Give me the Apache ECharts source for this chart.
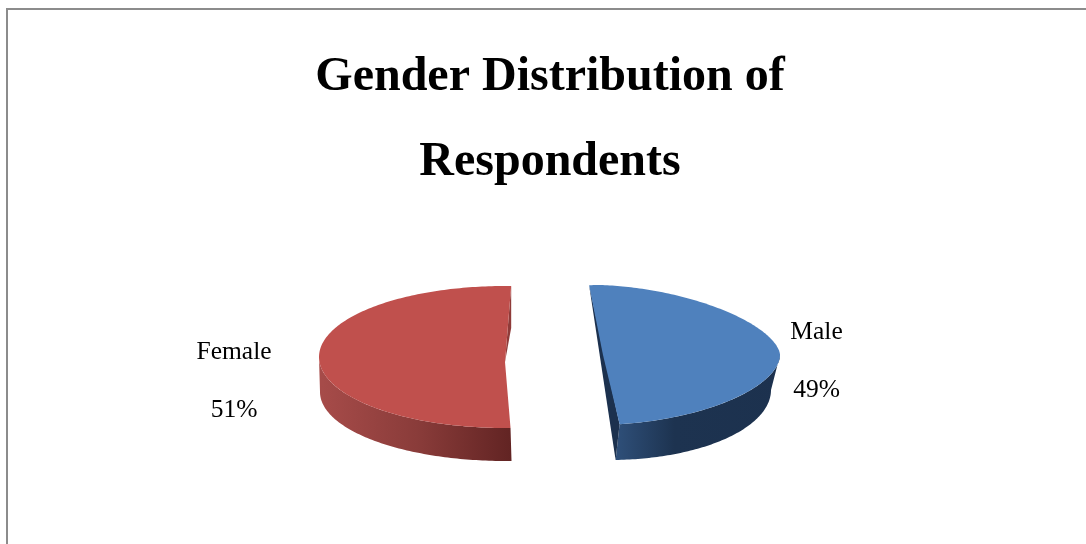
<!DOCTYPE html>
<html><head><meta charset="utf-8">
<style>html,body{margin:0;padding:0;background:#fff}#c{width:1086px;height:544px}</style>
<script src="https://cdn.jsdelivr.net/npm/echarts@6/dist/echarts.min.js"></script>
</head><body><div id="c"></div>
<script>
var categories = ['Male', 'Female'];
var shares = [49, 51];
var chartTitle = 'Gender Distribution of\nRespondents';

var looks = [
  {start:-4.4, face:'#4F81BD', side:'#1C314E', sideStops:[[0,'#2F507A'],[0.35,'#1D3350'],[1,'#1C314E']],
   top:{cx:598,cy:355,rx:182,ry:70,upper:1.7,lower:1.85}, bottom:{cx:610,cy:390,rx:161,ry:70}, bottomEnd:178,
   hub:[603,355], grad:[615,785], label:[816.5,332,390]},
  {start:178.3, face:'#C0504D', side:'#622423', sideStops:[[0,'#A64B49'],[0.5,'#8A3C3A'],[1,'#622423']],
   top:{cx:505,cy:357,rx:186,ry:71}, bottom:{cx:506,cy:392,rx:186,ry:69},
   hub:[505,362], grad:[322,511], label:[234,352,410], sliver:true}
];

function pt(e, a) {
  var r = a * Math.PI / 180, s = Math.sin(r), c = Math.cos(r);
  var p = c > 0 ? (e.upper || 2) : (e.lower || 2);
  var sx = Math.pow(Math.abs(s), 2 / p) * (s < 0 ? -1 : 1);
  var sy = Math.pow(Math.abs(c), 2 / p) * (c < 0 ? -1 : 1);
  return [e.cx + e.rx * sx, e.cy - e.ry * sy];
}
function arc(e, a0, a1) {
  var out = [], n = Math.ceil(Math.abs(a1 - a0));
  for (var i = 0; i <= n; i++) out.push(pt(e, a0 + (a1 - a0) * i / n));
  return out;
}

var total = shares.reduce(function (s, v) { return s + v; }, 0);
var chart = echarts.init(document.getElementById('c'), null, {renderer: 'canvas'});

chart.setOption({
  animation: false,
  backgroundColor: '#fff',
  title: {
    text: chartTitle, left: 545, top: 30, textAlign: 'center',
    textStyle: {fontFamily: 'Liberation Serif', fontWeight: 'bold', fontSize: 48, lineHeight: 85, color: '#000'}
  },
  graphic: [
    {type: 'rect', shape: {x: 6, y: 8, width: 1080, height: 2}, style: {fill: '#8C8C8C'}, silent: true},
    {type: 'rect', shape: {x: 6, y: 8, width: 2, height: 536}, style: {fill: '#8C8C8C'}, silent: true}
  ],
  series: [{
    type: 'custom',
    coordinateSystem: 'none',
    data: categories.map(function (n, i) { return {name: n, value: [shares[i], i]}; }),
    renderItem: function (params, api) {
      var v = api.value(0), i = api.value(1), k = looks[i];
      var sweep = v / total * 360;
      var a0 = k.start, a1 = k.start + sweep;
      var face = arc(k.top, a0, a1);
      var kids = [];
      var w0 = Math.max(a0, 90), w1 = Math.min(a1, 270);
      var b1 = k.bottomEnd || w1;
      var bw0 = i === 1 ? k.start : w0;
      var wall = arc(k.top, w0, w1).concat(arc(k.bottom, b1, bw0));
      kids.push({type: 'polygon', shape: {points: wall}, style: {
        fill: new echarts.graphic.LinearGradient(k.grad[0], 0, k.grad[1], 0,
          k.sideStops.map(function (s) { return {offset: s[0], color: s[1]}; }), true)}});
      if (i === 0) {
        kids.push({type: 'polygon', shape: {points: [pt(k.top, a0), pt(k.top, a1), pt(k.bottom, b1)]}, style: {fill: k.side}});
      }
      if (k.sliver) {
        var t = pt(k.top, a1);
        kids.push({type: 'polygon', shape: {points: [t, k.hub, [t[0], t[1] + 42]]}, style: {fill: '#8F3B39'}});
      }
      kids.push({type: 'polygon', shape: {points: face.concat([k.hub])}, style: {fill: k.face}});
      var f = {fontFamily: 'Liberation Serif', fontSize: 25.5, fill: '#000', align: 'center', verticalAlign: 'middle'};
      kids.push({type: 'text', style: Object.assign({text: categories[i], x: k.label[0], y: k.label[1]}, f)});
      kids.push({type: 'text', style: Object.assign({text: v + '%', x: k.label[0], y: k.label[2]}, f)});
      return {type: 'group', children: kids};
    }
  }]
});
</script></body></html>
